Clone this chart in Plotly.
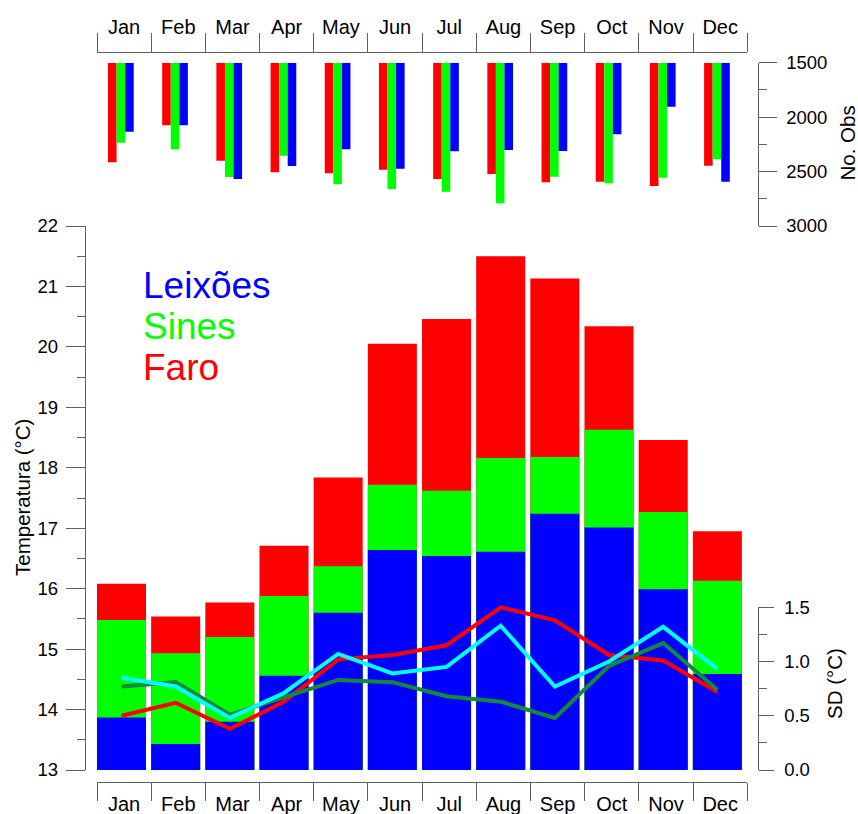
import plotly.graph_objects as go

W, H = 858, 814

MONTHS = ["Jan", "Feb", "Mar", "Apr", "May", "Jun", "Jul", "Aug", "Sep", "Oct", "Nov", "Dec"]

# Mean temperature (°C)
TEMP_FARO = [16.08, 15.54, 15.77, 16.71, 17.84, 20.05, 20.46, 21.50, 21.13, 20.34, 18.46, 16.95]
TEMP_SINES = [15.48, 14.93, 15.20, 15.88, 16.37, 17.72, 17.62, 18.16, 18.18, 18.63, 17.27, 16.13]
TEMP_LEIXOES = [13.87, 13.43, 13.80, 14.56, 15.60, 16.64, 16.54, 16.61, 17.24, 17.01, 15.99, 14.59]

# Standard deviation (°C)
SD_FARO = [0.50, 0.62, 0.38, 0.63, 1.02, 1.06, 1.15, 1.50, 1.38, 1.06, 1.01, 0.72]
SD_SINES = [0.77, 0.81, 0.51, 0.67, 0.83, 0.81, 0.68, 0.63, 0.48, 0.96, 1.17, 0.74]
SD_LEIXOES = [0.85, 0.77, 0.48, 0.71, 1.07, 0.89, 0.95, 1.33, 0.77, 1.00, 1.32, 0.93]

# Number of observations
OBS_FARO = [2415, 2075, 2400, 2507, 2516, 2483, 2568, 2522, 2599, 2593, 2633, 2446]
OBS_SINES = [2235, 2295, 2550, 2354, 2617, 2660, 2685, 2792, 2547, 2608, 2556, 2387]
OBS_LEIXOES = [2134, 2075, 2568, 2449, 2295, 2474, 2314, 2302, 2311, 2158, 1904, 2593]

OBS_BASE = 1500
TEMP_BASE = 13

RED, GREEN, BLUE = "#FF0000", "#00FF00", "#0000FF"
CYAN, DKGREEN = "#00FFFF", "#128A3C"
AXC = "#606060"
FONT = "Arial, Liberation Sans, sans-serif"


def fx(p):
    return p / W


def fy(p):
    return 1 - p / H


fig = go.Figure()

# Main overlapping bars (Faro behind, Leixões in front)
for vals, col in [(TEMP_FARO, RED), (TEMP_SINES, GREEN), (TEMP_LEIXOES, BLUE)]:
    fig.add_trace(go.Bar(x=MONTHS, y=[v - TEMP_BASE for v in vals], base=TEMP_BASE, width=0.905,
                         marker=dict(color=col, line=dict(width=0)),
                         xaxis="x", yaxis="y", showlegend=False))

# SD lines
for vals, col in [(SD_FARO, RED), (SD_SINES, DKGREEN), (SD_LEIXOES, CYAN)]:
    fig.add_trace(go.Scatter(x=MONTHS, y=vals, mode="lines",
                             line=dict(color=col, width=4),
                             xaxis="x", yaxis="y2", showlegend=False))

# Top obs bars
for vals, col, off in [(OBS_FARO, RED, -0.297), (OBS_SINES, GREEN, -0.139), (OBS_LEIXOES, BLUE, 0.019)]:
    fig.add_trace(go.Bar(x=MONTHS, y=[v - OBS_BASE for v in vals], base=OBS_BASE,
                         width=0.158, offset=off,
                         marker=dict(color=col, line=dict(width=0)),
                         xaxis="x3", yaxis="y3", showlegend=False))

# empty helper traces so the decoration axes are drawn
fig.add_trace(go.Scatter(x=MONTHS, y=[None] * 12, mode="lines", xaxis="x2", yaxis="y",
                         showlegend=False, hoverinfo="skip"))
fig.add_trace(go.Scatter(x=MONTHS, y=[None] * 12, mode="lines", xaxis="x", yaxis="y4",
                         showlegend=False, hoverinfo="skip"))

unit = 54.17
x_range = [(86 - 121.5) / unit, (758 - 121.5) / unit]

tickfont = dict(family=FONT, size=18.5, color="#000")
monthfont = dict(family=FONT, size=20, color="#000")

fig.update_layout(
    width=W, height=H,
    margin=dict(l=0, r=0, t=0, b=0, autoexpand=False),
    paper_bgcolor="white", plot_bgcolor="rgba(0,0,0,0)",
    barmode="overlay",
    showlegend=False,
    xaxis=dict(domain=[fx(86), fx(758)], range=x_range, type="category",
               categoryorder="array", categoryarray=MONTHS, visible=False, automargin=False),
    yaxis=dict(domain=[fy(770), fy(226)], range=[13, 22], anchor="x", automargin=False,
               showline=True, linecolor=AXC, linewidth=1.3, showgrid=False, zeroline=False,
               ticks="outside", ticklen=19, tickcolor=AXC, tickwidth=1.3, dtick=1,
               tickfont=tickfont, ticklabelstandoff=4,
               minor=dict(ticks="outside", ticklen=8, tickcolor=AXC, tickwidth=1.3, dtick=0.5)),
    yaxis2=dict(overlaying="y", range=[0, 544 / 108.47], visible=False, automargin=False),
    xaxis2=dict(domain=[fx(97), fx(747.3)], range=[-0.5, 11.5], type="category",
                categoryorder="array", categoryarray=MONTHS, automargin=False,
                anchor="free", position=fy(781.5), side="bottom",
                showline=True, linecolor=AXC, linewidth=1.3, showgrid=False,
                ticks="outside", ticklen=18, tickcolor=AXC, tickwidth=1.3,
                tickson="boundaries", tickfont=monthfont, ticklabelstandoff=4),
    xaxis3=dict(domain=[fx(97), fx(747.3)], range=[-0.5, 11.5], type="category",
                categoryorder="array", categoryarray=MONTHS, automargin=False,
                anchor="free", position=fy(52.3), side="top",
                showline=True, linecolor=AXC, linewidth=1.3, showgrid=False,
                ticks="outside", ticklen=19, tickcolor=AXC, tickwidth=1.3,
                tickson="boundaries", tickfont=monthfont, ticklabelstandoff=10),
    yaxis3=dict(domain=[fy(226), fy(62.7)], range=[3000, 1500], automargin=False,
                anchor="free", position=fx(758.3), side="right",
                showline=True, linecolor=AXC, linewidth=1.3, showgrid=False, zeroline=False,
                ticks="outside", ticklen=18, tickcolor=AXC, tickwidth=1.3, dtick=500,
                tickfont=tickfont, ticklabelstandoff=5,
                minor=dict(ticks="outside", ticklen=8, tickcolor=AXC, tickwidth=1.3, dtick=250)),
    yaxis4=dict(domain=[fy(770), fy(607.3)], range=[0, 1.5], automargin=False,
                anchor="free", position=fx(758.3), side="right",
                showline=True, linecolor=AXC, linewidth=1.3, showgrid=False, zeroline=False,
                ticks="outside", ticklen=15, tickcolor=AXC, tickwidth=1.3, dtick=0.5,
                tickformat=".1f", tickfont=tickfont, ticklabelstandoff=6,
                minor=dict(ticks="outside", ticklen=8, tickcolor=AXC, tickwidth=1.3, dtick=0.25)),
)

annots = [
    dict(text="Temperatura (°C)", x=fx(22), y=fy(498), textangle=-90),
    dict(text="No. Obs", x=fx(847), y=fy(143.5), textangle=-90),
    dict(text="SD (°C)", x=fx(834), y=fy(684), textangle=-90),
]
for a in annots:
    fig.add_annotation(xref="paper", yref="paper", showarrow=False,
                       xanchor="center", yanchor="middle",
                       font=dict(family=FONT, size=20.5, color="#000"), **a)

for txt, col, ymid in [("Leixões", BLUE, 285), ("Sines", GREEN, 326.5), ("Faro", RED, 368)]:
    fig.add_annotation(xref="paper", yref="paper", showarrow=False,
                       x=fx(141), y=fy(ymid), xanchor="left", yanchor="middle",
                       text=txt, font=dict(family=FONT, size=37, color=col))

fig.write_html("out.html", config={"displayModeBar": False},
               post_script="document.body.style.margin='0px';document.body.style.overflow='hidden';")
